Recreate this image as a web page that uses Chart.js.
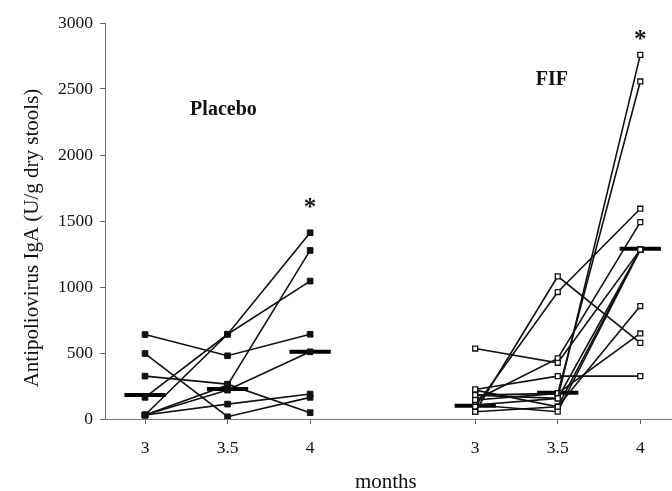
<!DOCTYPE html>
<html>
<head>
<meta charset="utf-8">
<script src="https://cdn.jsdelivr.net/npm/chart.js@4"></script>
<style>
  body { margin: 0; background: #fff; }
  #wrap { width: 672px; height: 491px; }
</style>
</head>
<body>
<div id="wrap"><canvas id="chart" width="672" height="491"></canvas></div>
<script>
// ===== DATA =====
const monthLabels = ['3', '3.5', '4'];
const groupNames = ['Placebo', 'FIF'];
const yTitle = 'Antipoliovirus IgA (U/g dry stools)';
const xTitle = 'months';

// one row per infant: values at 3, 3.5, 4 months
const placeboSubjects = [
    [640, 479, 642],
    [496, 17, 164],
    [325, 264, 48],
    [164, 642, 1045],
    [30, 642, 1411],
    [30, 257, 1277],
    [30, 219, 509],
    [30, 113, 189]
];
const fifSubjects = [
    [55, 1081, 577],
    [93, 962, 1593],
    [534, 426, 1283],
    [144, 459, 1491],
    [106, 156, 2759],
    [181, 194, 2557],
    [224, 325, 325],
    [55, 93, 856],
    [106, 55, 1283],
    [144, 194, 648],
    [181, 156, 1283],
    [219, 93, 1283]
];
const placeboMedian = [181, 227, 509];
const fifMedian = [101, 199, 1290];
const yTicks = [0, 500, 1000, 1500, 2000, 2500, 3000];

// ===== BUILD =====
const GROUP_START = [0, 4];   // x slot of the first month of each group
const BAR_HALF = 0.25;
const SERIF = "'Liberation Serif', 'DejaVu Serif', serif";

function subjectDataset(values, groupIdx, filled) {
    return {
        data: values.map((v, i) => ({ x: GROUP_START[groupIdx] + i, y: v })),
        borderColor: '#111',
        borderWidth: 1.6,
        pointStyle: 'rect',
        pointRadius: filled ? 4 : 3.5,
        pointBorderWidth: filled ? 1 : 1.3,
        pointBorderColor: '#111',
        pointBackgroundColor: filled ? '#111' : '#fff',
        tension: 0
    };
}

function medianDatasets(medians, groupIdx) {
    return medians.map((m, i) => ({
        data: [
            { x: GROUP_START[groupIdx] + i - BAR_HALF, y: m },
            { x: GROUP_START[groupIdx] + i + BAR_HALF, y: m }
        ],
        borderColor: '#000',
        borderWidth: 4,
        pointRadius: 0
    }));
}

const datasets = [
    ...placeboSubjects.map(s => subjectDataset(s, 0, true)),
    ...fifSubjects.map(s => subjectDataset(s, 1, false)),
    ...medianDatasets(placeboMedian, 0),
    ...medianDatasets(fifMedian, 1)
];

const tickPositions = [];
const tickText = {};
GROUP_START.forEach(g => monthLabels.forEach((l, i) => {
    tickPositions.push(g + i);
    tickText[g + i] = l;
}));

// group names, significance stars, y title
const labelPlugin = {
    id: 'groupLabels',
    beforeDatasetsDraw(chart) {
        // the x axis line runs on to the right edge of the figure
        const { ctx, chartArea } = chart;
        ctx.save();
        ctx.strokeStyle = '#777';
        ctx.lineWidth = 1;
        ctx.beginPath();
        ctx.moveTo(chartArea.right - 1, chartArea.bottom + 0.5);
        ctx.lineTo(chart.width, chartArea.bottom + 0.5);
        ctx.stroke();
        ctx.restore();
    },
    afterDatasetsDraw(chart) {
        const { ctx, scales: { x, y } } = chart;
        ctx.save();
        ctx.fillStyle = '#111';
        ctx.textAlign = 'center';
        ctx.textBaseline = 'middle';
        ctx.font = "bold 20px " + SERIF;
        ctx.fillText(groupNames[0], x.getPixelForValue(GROUP_START[0] + 0.95), y.getPixelForValue(2340));
        ctx.fillText(groupNames[1], x.getPixelForValue(GROUP_START[1] + 0.93), y.getPixelForValue(2570));
        ctx.font = "bold 25px " + SERIF;
        const pMax = Math.max(...placeboSubjects.map(s => s[2]));
        const fMax = Math.max(...fifSubjects.map(s => s[2]));
        ctx.fillText('*', x.getPixelForValue(GROUP_START[0] + 2), y.getPixelForValue(pMax) - 24);
        ctx.fillText('*', x.getPixelForValue(GROUP_START[1] + 2), y.getPixelForValue(fMax) - 14);

        // y axis title, sits a bit below the middle of the axis
        ctx.font = "21px " + SERIF;
        ctx.translate(32, (y.top + y.bottom) / 2 + 17);
        ctx.rotate(-Math.PI / 2);
        ctx.fillText(yTitle, 0, 0);
        ctx.restore();
    }
};

new Chart(document.getElementById('chart'), {
    type: 'line',
    data: { datasets },
    plugins: [labelPlugin],
    options: {
        responsive: false,
        animation: false,
        layout: { padding: { top: 23, right: 0, left: 0, bottom: 0 } },
        plugins: { legend: { display: false }, tooltip: { enabled: false } },
        scales: {
            x: {
                type: 'linear',
                min: -0.485,
                max: 6.32,
                afterBuildTicks: scale => { scale.ticks = tickPositions.map(v => ({ value: v })); },
                afterFit: scale => { scale.height = 72; },
                ticks: {
                    color: '#111',
                    font: { family: SERIF, size: 17.5 },
                    padding: 14,
                    maxRotation: 0,
                    callback: v => tickText[v] ?? ''
                },
                grid: { drawOnChartArea: false, tickLength: 5, color: '#666' },
                border: { color: '#777', width: 1 },
                title: {
                    display: true,
                    text: xTitle,
                    color: '#111',
                    font: { family: SERIF, size: 21 },
                    padding: { top: 0, bottom: -4 }
                }
            },
            y: {
                min: 0,
                max: 3000,
                afterBuildTicks: scale => { scale.ticks = yTicks.map(v => ({ value: v })); },
                afterFit: scale => { scale.width = 105; },
                ticks: {
                    color: '#111',
                    font: { family: SERIF, size: 17.5 },
                    padding: 7,
                    callback: v => String(v)
                },
                grid: { drawOnChartArea: false, tickLength: 5, color: '#666' },
                border: { color: '#777', width: 1 }
            }
        }
    }
});
</script>
</body>
</html>
